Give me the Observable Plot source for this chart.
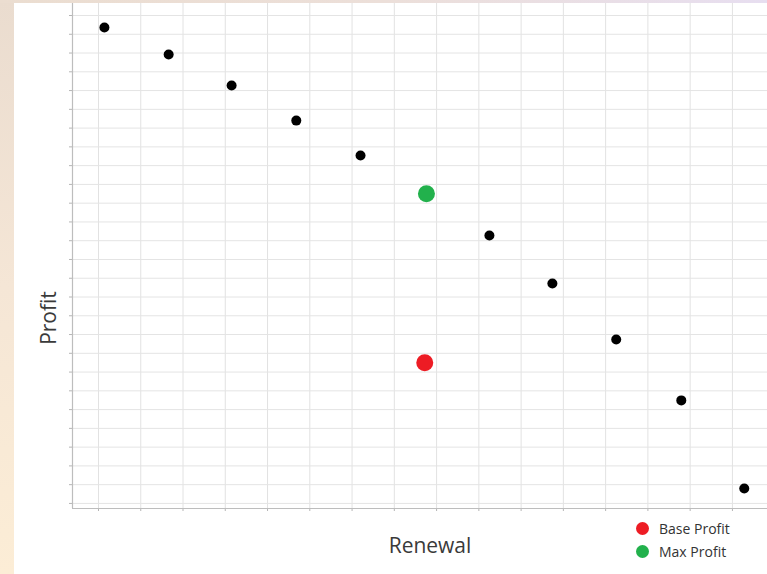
<!DOCTYPE html>
<html>
<head>
<meta charset="utf-8">
<script src="https://cdn.jsdelivr.net/npm/d3@7"></script>
<script src="https://cdn.jsdelivr.net/npm/@observablehq/plot@0.6"></script>
<style>
  html, body { margin: 0; padding: 0; width: 767px; height: 574px; overflow: hidden; }
  body {
    position: relative;
    background: linear-gradient(180deg, #eadccf 0%, #f5e6d6 50%, #fcedd6 100%);
    font-family: "Open Sans", "Noto Sans", sans-serif;
  }
  #topstrip {
    position: absolute; left: 0; top: 0; width: 767px; height: 3px;
    background: linear-gradient(90deg, #ebddd0 0%, #ecdfd9 50%, #e7def0 100%);
  }
  #panel { position: absolute; left: 14px; top: 3px; width: 753px; height: 571px; background: #ffffff; }
  #chart { position: absolute; left: 0; top: 0; }
  .lbl { position: absolute; color: #3a3a3a; font-size: 21px; white-space: nowrap; }
  #ylab { left: 48px; top: 318px; transform: translate(-50%, -50%) rotate(-90deg); }
  #xlab { left: 430px; top: 545px; transform: translate(-50%, -50%); }
  .leg { position: absolute; left: 636px; font-size: 14px; color: #333; display: flex; align-items: center; white-space: nowrap; }
  .leg span.sw { width: 13px; height: 13px; border-radius: 50%; display: inline-block; margin-right: 10px; }
</style>
</head>
<body>
<div id="topstrip"></div>
<div id="panel"></div>
<div id="chart"></div>
<div class="lbl" id="ylab">Profit</div>
<div class="lbl" id="xlab">Renewal</div>
<div class="leg" style="top:519px"><span class="sw" style="background:#ed1c24"></span>Base Profit</div>
<div class="leg" style="top:542px"><span class="sw" style="background:#22b14c"></span>Max Profit</div>
<script>
// Series values (grid units)
const renewal = [0.14, 1.66, 3.15, 4.68, 6.20, 7.74, 9.25, 10.74, 12.25, 13.79, 15.28];
const profit  = [25.36, 23.92, 22.27, 20.40, 18.54, 16.52, 14.28, 11.72, 8.74, 5.49, 0.80];
// Highlighted points
const baseRenewal = [7.72];
const baseProfit  = [7.50];
const maxRenewal  = [7.76];
const maxProfit   = [16.50];
// Tick / grid values (labels hidden in the original)
const xTicks = d3.range(0, 16);
const yTicks = d3.range(0, 27);
const xDomain = [-0.615, 15.83];
const yDomain = [-0.27, 26.64];

const points = renewal.map((r, i) => ({renewal: r, profit: profit[i]}));
const base = baseRenewal.map((r, i) => ({renewal: r, profit: baseProfit[i]}));
const maxp = maxRenewal.map((r, i) => ({renewal: r, profit: maxProfit[i]}));

const chart = Plot.plot({
  width: 767,
  height: 574,
  marginLeft: 72,
  marginRight: 0,
  marginTop: 3,
  marginBottom: 66,
  style: {background: "transparent", overflow: "visible"},
  x: {domain: xDomain},
  y: {domain: yDomain},
  marks: [
    Plot.gridX(xTicks, {stroke: "#e2e2e2", strokeOpacity: 1}),
    Plot.gridY(yTicks, {stroke: "#e4e4e4", strokeOpacity: 1}),
    Plot.axisX(xTicks, {tickSize: 3, tickFormat: () => "", stroke: "#b5b5b5", label: null}),
    Plot.axisY(yTicks, {tickSize: 3, tickFormat: () => "", stroke: "#b5b5b5", label: null}),
    Plot.ruleX([xDomain[0]], {stroke: "#bdbdbd", strokeWidth: 1.2}),
    Plot.ruleY([yDomain[0]], {stroke: "#bdbdbd", strokeWidth: 1.2}),
    Plot.dot(points, {x: "renewal", y: "profit", r: 5, fill: "#000000", stroke: null}),
    Plot.dot(maxp, {x: "renewal", y: "profit", r: 8.5, fill: "#22b14c", stroke: null}),
    Plot.dot(base, {x: "renewal", y: "profit", r: 8.5, fill: "#ed1c24", stroke: null})
  ]
});
document.getElementById("chart").appendChild(chart);
</script>
</body>
</html>
